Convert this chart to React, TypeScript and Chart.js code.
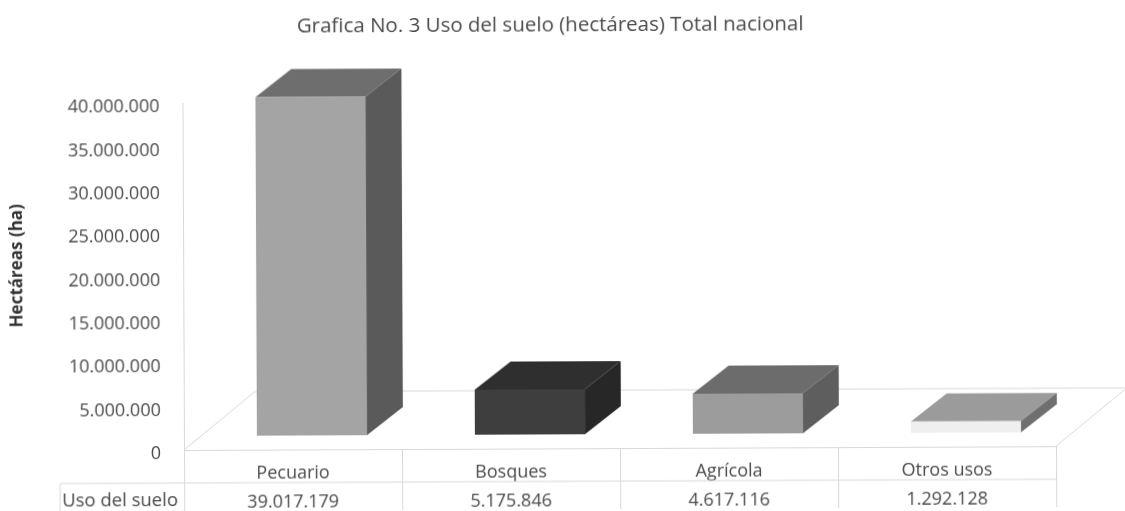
import React, { useEffect, useRef } from "react";
import { Chart, registerables } from "chart.js";

Chart.register(...registerables);

const categories = ["Pecuario", "Bosques", "Agrícola", "Otros usos"];
const usoDelSuelo = [39017179, 5175846, 4617116, 1292128];
const titleText = "Grafica No. 3 Uso del suelo (hectáreas) Total nacional";
const yAxisTitle = "Hectáreas (ha)";
const rowTitle = "Uso del suelo";

const frontColors = ["#a4a4a4", "#3e3e3e", "#9c9c9c", "#efefef"];
const topColors = ["#6e6e6e", "#2f2f2f", "#6c6c6c", "#9b9b9b"];
const sideColors = ["#5a5a5a", "#272727", "#5e5e5e", "#6f6f6f"];

const FONT = "'Open Sans', sans-serif";
const TEXT = "#4a4a4a";
const LINE = "#d8d8d8";
const fmt = (v: number) => Math.round(v).toString().replace(/\B(?=(\d{3})+(?!\d))/g, ".");

// 3D look: bars are lifted off the front of the floor and extruded backwards
const LIFT_X = 19;
const LIFT_Y = 14;
const DEPTH_X = 36;
const DEPTH_Y = 28;
const FLOOR_X = 71;
const FLOOR_Y = 58;
const TICK_SHIFT = 4;

const poly = (ctx: CanvasRenderingContext2D, pts: number[][], fill: string) => {
  ctx.beginPath();
  pts.forEach(([x, y], i) => (i ? ctx.lineTo(x, y) : ctx.moveTo(x, y)));
  ctx.closePath();
  ctx.fillStyle = fill;
  ctx.fill();
};

const threeD = {
  id: "threeD",
  afterLayout(chart: any) {
    if (chart.titleBlock) {
      chart.titleBlock.left = 0;
      chart.titleBlock.right = 1104;
    }
  },
  beforeDraw(chart: any) {
    chart.scales.y.getLabelItems().forEach((item: any) => {
      if (!item.shifted) {
        item.textOffset += TICK_SHIFT;
        item.shifted = true;
      }
    });
  },
  beforeDatasetsDraw(chart: any) {
    const { ctx, chartArea: a } = chart;
    ctx.save();
    ctx.strokeStyle = LINE;
    ctx.lineWidth = 1;
    ctx.beginPath();
    ctx.moveTo(a.left, a.bottom);
    ctx.lineTo(a.left + FLOOR_X, a.bottom - FLOOR_Y);
    ctx.lineTo(a.right + FLOOR_X, a.bottom - FLOOR_Y);
    ctx.lineTo(a.right, a.bottom);
    ctx.stroke();
    ctx.beginPath();
    ctx.moveTo(60, a.bottom + 33);
    ctx.lineTo(a.right, a.bottom + 33);
    ctx.moveTo(60, a.bottom + 33);
    ctx.lineTo(60, a.bottom + 61);
    ctx.stroke();
    ctx.restore();
  },
  beforeDatasetDraw(chart: any, args: any) {
    const { ctx } = chart;
    const bars = chart.getDatasetMeta(args.index).data;
    bars.forEach((bar: any, i: number) => {
      const half = bar.width / 2;
      const l = bar.x - half + LIFT_X;
      const r = bar.x + half + LIFT_X;
      const t = bar.y - LIFT_Y;
      const b = bar.base - LIFT_Y;
      poly(ctx, [[l, t], [l + DEPTH_X, t - DEPTH_Y], [r + DEPTH_X, t - DEPTH_Y], [r, t]], topColors[i]);
      poly(ctx, [[r, t], [r + DEPTH_X, t - DEPTH_Y], [r + DEPTH_X, b - DEPTH_Y], [r, b]], sideColors[i]);
    });
    ctx.save();
    ctx.translate(LIFT_X, -LIFT_Y);
  },
  afterDatasetDraw(chart: any) {
    chart.ctx.restore();
  },
  afterDraw(chart: any) {
    const { ctx, chartArea: a } = chart;
    ctx.save();
    ctx.fillStyle = TEXT;
    ctx.textBaseline = "middle";
    ctx.font = `18.5px ${FONT}`;
    ctx.textAlign = "left";
    ctx.fillText(rowTitle, 62, a.bottom + 51);
    ctx.translate(18, 265);
    ctx.rotate(-Math.PI / 2);
    ctx.textAlign = "center";
    ctx.font = `bold 17px ${FONT}`;
    ctx.fillStyle = "#333";
    ctx.fillText(yAxisTitle, 0, 0);
    ctx.restore();
  },
};

export default function App() {
  const ref = useRef<HTMLCanvasElement>(null);
  useEffect(() => {
    const chart = new Chart(ref.current as HTMLCanvasElement, {
      type: "bar",
      data: {
        labels: categories,
        datasets: [
          {
            label: rowTitle,
            data: usoDelSuelo,
            backgroundColor: frontColors,
            categoryPercentage: 1,
            barPercentage: 0.505,
            clip: false,
          } as any,
        ],
      },
      options: {
        responsive: false,
        animation: false,
        layout: { padding: { left: 0, right: 69, top: 0, bottom: 0 } },
        plugins: {
          legend: { display: false },
          tooltip: { enabled: false },
          title: {
            display: true,
            text: titleText,
            color: TEXT,
            font: { family: FONT, size: 20.5, weight: "normal", lineHeight: 1.2 },
            padding: { top: 15, bottom: 63.4 },
          },
        },
        scales: {
          x: {
            offset: true,
            afterFit: (s: any) => {
              s.height = 61;
            },
            border: { display: true, color: LINE },
            grid: { display: true, drawOnChartArea: false, drawTicks: true, tickLength: 61, color: LINE, offset: true },
            ticks: {
              color: TEXT,
              maxRotation: 0,
              autoSkip: false,
              padding: -51,
              font: { family: FONT, size: 18, lineHeight: 1.58 },
              callback: (_v: any, i: number) => [categories[i], fmt(usoDelSuelo[i])],
            },
          },
          y: {
            min: 0,
            max: 40000000,
            afterFit: (s: any) => {
              s.width = 184;
            },
            border: { display: true, color: LINE },
            grid: { display: false, drawTicks: false },
            ticks: {
              stepSize: 5000000,
              color: TEXT,
              padding: 23,
              font: { family: FONT, size: 18 },
              callback: (v: any) => fmt(Number(v)),
            },
          },
        },
      },
      plugins: [threeD],
    } as any);
    return () => chart.destroy();
  }, []);
  return (
    <canvas
      ref={ref}
      width={1125}
      height={511}
      style={{
        position: "fixed",
        left: 0,
        top: 0,
        width: 1125,
        height: 511,
        background: "#fff",
        transform: "rotate(-0.25deg)",
        transformOrigin: "184px 450px",
        filter: "blur(0.5px)",
      }}
    />
  );
}
